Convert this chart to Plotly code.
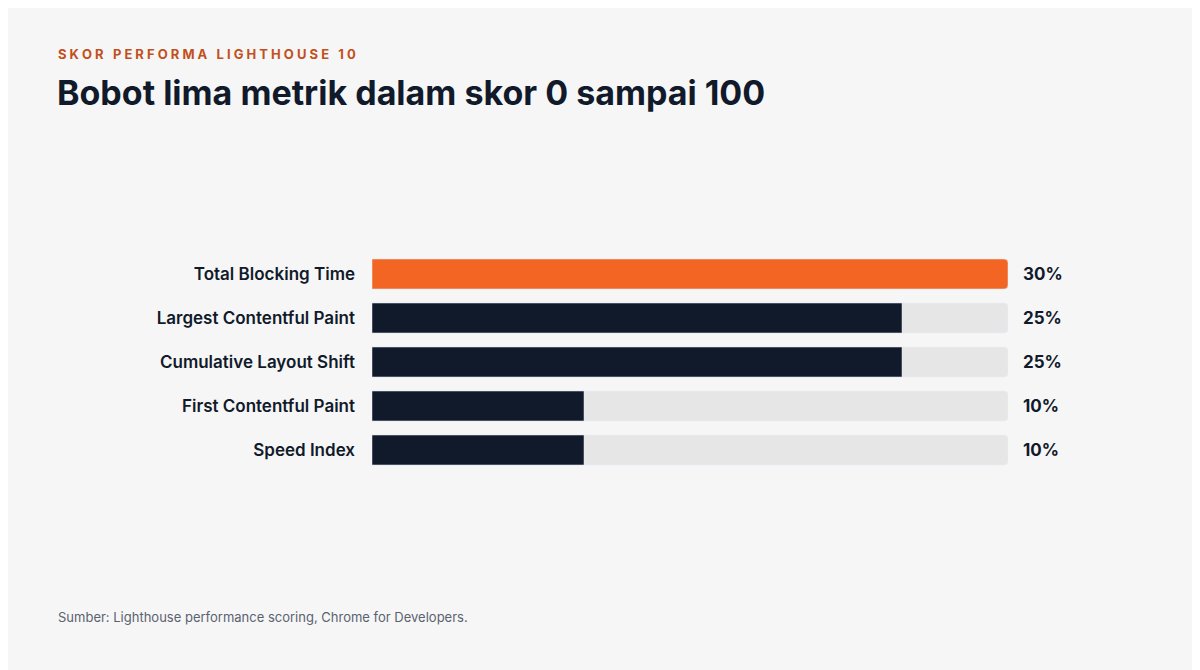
import plotly.graph_objects as go

metrics = ["Total Blocking Time", "Largest Contentful Paint", "Cumulative Layout Shift",
           "First Contentful Paint", "Speed Index"]
weights = [30, 25, 25, 10, 10]
track_max = [30, 30, 30, 30, 30]
colors = ["#f26522", "#111a2b", "#111a2b", "#111a2b", "#111a2b"]

W, H = 1200, 670
OFF = 8
L, R, T, B = 372 - OFF, 192 + OFF, 252 - OFF, 198 + OFF
PH = H - T - B
PW = W - L - R

def px(x): return (x - OFF - L) / PW
def py(y): return (H - B - (y - OFF)) / PH

fig = go.Figure()
fig.add_trace(go.Bar(y=metrics, x=track_max, orientation="h", marker_color="#e6e6e6",
                     width=0.68, hoverinfo="skip", showlegend=False))
fig.add_trace(go.Bar(y=metrics, x=weights, orientation="h", marker_color=colors,
                     width=0.68, showlegend=False))

for m, w in zip(metrics, weights):
    fig.add_annotation(x=30, y=m, xref="x", yref="y", text=f"<b>{w}%</b>", showarrow=False,
                       xanchor="left", xshift=13, font=dict(family="Inter", size=17, color="#111a2b"))

fig.add_annotation(x=px(56), y=py(54), xref="paper", yref="paper", xanchor="left", yanchor="middle",
                   text="<b>S K O R   P E R F O R M A   L I G H T H O U S E   1 0</b>", showarrow=False,
                   font=dict(family="Inter", size=13, color="#c2501c"))
fig.add_annotation(x=px(55), y=py(92), xref="paper", yref="paper", xanchor="left", yanchor="middle",
                   text="<b>Bobot lima metrik dalam skor 0 sampai 100</b>", showarrow=False,
                   font=dict(family="Inter", size=34, color="#111a2b"))
fig.add_annotation(x=px(56), y=py(617), xref="paper", yref="paper", xanchor="left", yanchor="middle",
                   text="Sumber: Lighthouse performance scoring, Chrome for Developers.", showarrow=False,
                   font=dict(family="Inter", size=13, color="#5a6270"))

fig.update_layout(
    width=W, height=H, margin=dict(l=L, r=R, t=T, b=B),
    paper_bgcolor="#f6f6f6", plot_bgcolor="#f6f6f6",
    barmode="overlay", barcornerradius=4,
    xaxis=dict(range=[0, 30], visible=False, fixedrange=True),
    yaxis=dict(autorange="reversed", showgrid=False, zeroline=False, ticks="",
               ticklabelstandoff=16,
               tickfont=dict(family="Inter", size=17, color="#111a2b", weight=600)),
)
fig.write_html("out.html")
